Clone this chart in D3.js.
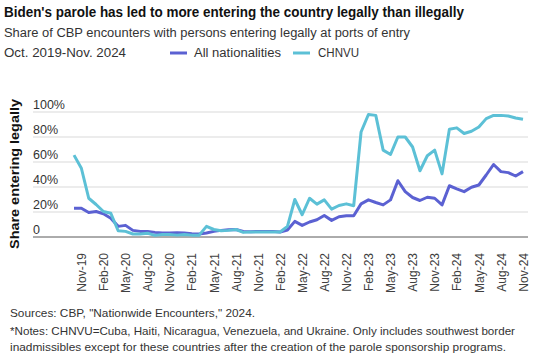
<!DOCTYPE html>
<html><head><meta charset="utf-8">
<script src="https://cdn.jsdelivr.net/npm/d3@7"></script>
<style>body{margin:0;background:#fff} svg{display:block;font-family:"Liberation Sans",Arial,sans-serif}</style>
</head><body>
<svg id="c" width="535" height="360"></svg>
<script>
const months = ["Oct-19","Nov-19","Dec-19","Jan-20","Feb-20","Mar-20","Apr-20","May-20","Jun-20","Jul-20","Aug-20","Sep-20","Oct-20","Nov-20","Dec-20","Jan-21","Feb-21","Mar-21","Apr-21","May-21","Jun-21","Jul-21","Aug-21","Sep-21","Oct-21","Nov-21","Dec-21","Jan-22","Feb-22","Mar-22","Apr-22","May-22","Jun-22","Jul-22","Aug-22","Sep-22","Oct-22","Nov-22","Dec-22","Jan-23","Feb-23","Mar-23","Apr-23","May-23","Jun-23","Jul-23","Aug-23","Sep-23","Oct-23","Nov-23","Dec-23","Jan-24","Feb-24","Mar-24","Apr-24","May-24","Jun-24","Jul-24","Aug-24","Sep-24","Oct-24","Nov-24"];
const allNationalities = [23,23,19.6,20.4,18.6,15,8.5,9.3,5.3,4.5,4.5,3.7,3.2,3.2,3.4,3.2,2.7,2.4,3.2,4.5,5.3,5.8,6,4.5,4.2,4.5,4.5,4.5,4,5.6,12.5,9.3,12,13.8,17.2,13.3,16.2,17,17,26.5,29.7,27.6,25.7,29.7,45,36.3,31.6,29.2,31.8,31,25.7,41,38.5,36.3,39.8,41.6,49.6,58,52.3,51.5,48.8,52.3];
const chnvu = [65.5,55,31,26,20.4,19,5,4.5,2.4,2.4,3,1.3,2,2,1.5,2,1.5,1.5,8.5,6,5,5.3,6,3.7,4,4,4,4,4,8.5,30,17.8,31,26.3,29.7,22.3,25.2,26.5,25,84,98,97.3,69.5,66,80,80,72,53,65,69.5,50.5,86.2,87.3,82.8,84.6,88,94.7,97.3,97.3,96.8,95.2,94.2];
const tickLabels = ["Nov-19","Feb-20","May-20","Aug-20","Nov-20","Feb-21","May-21","Aug-21","Nov-21","Feb-22","May-22","Aug-22","Nov-22","Feb-23","May-23","Aug-23","Nov-23","Feb-24","May-24","Aug-24","Nov-24"];
const yTicks = [0,20,40,60,80,100];
const seriesNames = ["All nationalities","CHNVU"];
const colors = ["#5b61d2","#5cc0d6"];

const svg = d3.select("#c");
const x = d3.scalePoint().domain(months).range([74,523]);
const y = d3.scaleLinear().domain([0,100]).range([237,112]);
const txt = "#333";

// title block
svg.append("text").attr("x",4).attr("y",17).attr("font-size",14).attr("font-weight","bold").attr("fill","#111")
  .attr("textLength",460).attr("lengthAdjust","spacingAndGlyphs")
  .text("Biden's parole has led to more entering the country legally than illegally");
svg.append("text").attr("x",4).attr("y",37).attr("font-size",12.5).attr("fill",txt)
  .attr("textLength",406).attr("lengthAdjust","spacingAndGlyphs")
  .text("Share of CBP encounters with persons entering legally at ports of entry");
svg.append("text").attr("x",4).attr("y",57).attr("font-size",12.5).attr("fill",txt)
  .attr("textLength",122).attr("lengthAdjust","spacingAndGlyphs")
  .text("Oct. 2019-Nov. 2024");

// legend
const leg = [{x:170,tx:194,w:87},{x:293,tx:318,w:41}];
seriesNames.forEach((n,i)=>{
  svg.append("line").attr("x1",leg[i].x).attr("x2",leg[i].x+17).attr("y1",53).attr("y2",53)
    .attr("stroke",colors[i]).attr("stroke-width",3);
  svg.append("text").attr("x",leg[i].tx).attr("y",57).attr("font-size",12.5).attr("fill",txt)
    .attr("textLength",leg[i].w).attr("lengthAdjust","spacingAndGlyphs").text(n);
});

// gridlines and y labels
yTicks.forEach(t=>{
  if(t>0) svg.append("line").attr("x1",33).attr("x2",528).attr("y1",y(t)).attr("y2",y(t))
    .attr("stroke","#d9d9d9").attr("stroke-width",1);
  svg.append("text").attr("x",33).attr("y",y(t)-3).attr("font-size",12.5).attr("fill",txt)
    .text(t===0?"0":t+"%");
});
svg.append("line").attr("x1",33).attr("x2",528).attr("y1",y(0)).attr("y2",y(0))
  .attr("stroke","#595959").attr("stroke-width",1);

// y title
svg.append("text").attr("transform","translate(19,174) rotate(-90)").attr("text-anchor","middle")
  .attr("font-size",13).attr("font-weight","bold").attr("fill","#111")
  .attr("textLength",150).attr("lengthAdjust","spacingAndGlyphs").text("Share entering legally");

// x axis labels
const xAxis = d3.axisBottom(x).tickValues(tickLabels).tickSize(0).tickPadding(0);
const gx = svg.append("g").attr("transform",`translate(0,${y(0)})`).call(xAxis);
gx.select(".domain").remove();
gx.selectAll("text").attr("font-size",12).attr("fill","#404040").attr("font-family","Liberation Sans, Arial, sans-serif")
  .attr("text-anchor","end").attr("transform","rotate(-90)")
  .attr("x",-16).attr("y",0).attr("dy","0.35em");

// lines
const line = d3.line().x((d,i)=>x(months[i])).y(d=>y(d));
[allNationalities, chnvu].forEach((s,i)=>{
  svg.append("path").datum(s).attr("d",line).attr("fill","none").attr("stroke",colors[i])
    .attr("stroke-width",3).attr("stroke-linejoin","round");
});

// footnotes
const notes = [
  {t:'Sources: CBP, "Nationwide Encounters," 2024.', y:317, w:245},
  {t:'*Notes: CHNVU=Cuba, Haiti, Nicaragua, Venezuela, and Ukraine. Only includes southwest border', y:335, w:505},
  {t:'inadmissibles except for these countries after the creation of the parole sponsorship programs.', y:351, w:496}
];
notes.forEach(n=>{
  svg.append("text").attr("x",10).attr("y",n.y).attr("font-size",11.5).attr("fill",txt)
    .attr("textLength",n.w).attr("lengthAdjust","spacingAndGlyphs").text(n.t);
});
</script>
</body></html>
